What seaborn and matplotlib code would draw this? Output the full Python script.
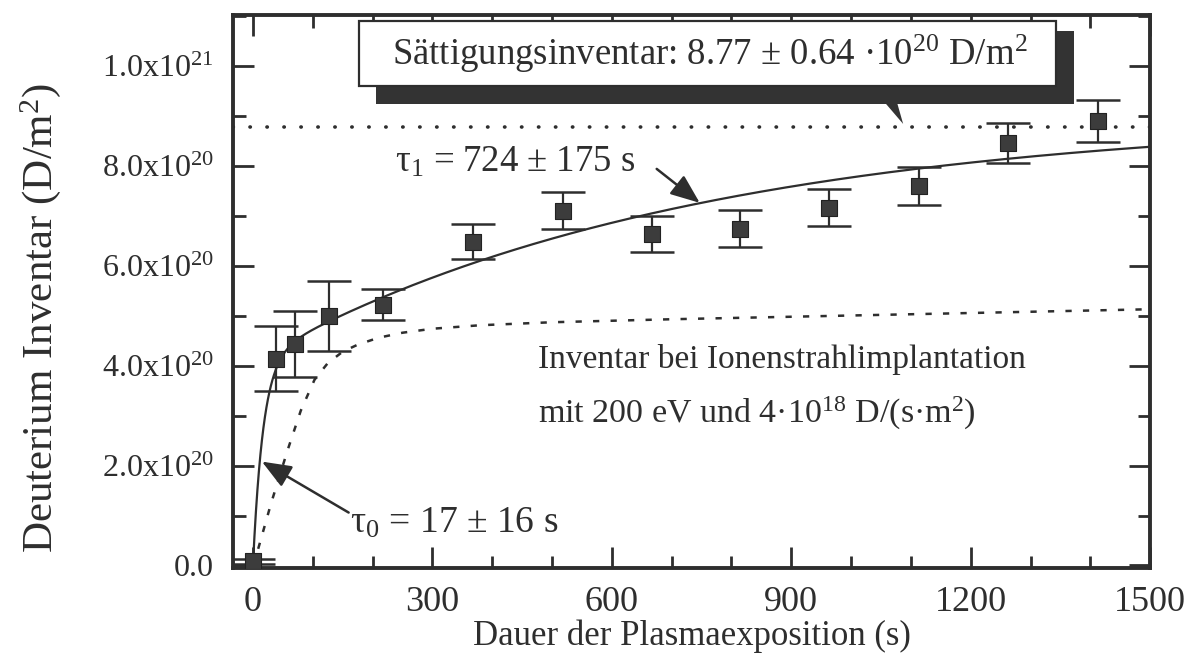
import numpy as np
import pandas as pd
import matplotlib
matplotlib.use("Agg")
import matplotlib.pyplot as plt
import seaborn as sns
from matplotlib.patches import Rectangle, Polygon
from matplotlib.ticker import MultipleLocator, FixedLocator, FixedFormatter

# Measured deuterium inventory (units of 1e20 D/m^2) vs. plasma exposure time (s)
t_meas = [0, 38, 70, 128, 218, 368, 518, 667, 815, 963, 1113, 1262, 1413]
inv_meas = [0.08, 4.14, 4.44, 5.00, 5.22, 6.48, 7.10, 6.64, 6.74, 7.16, 7.60, 8.46, 8.90]
inv_err = [0.06, 0.65, 0.66, 0.70, 0.31, 0.35, 0.37, 0.36, 0.37, 0.37, 0.38, 0.40, 0.42]

# Two-exponential fit parameters
tau0 = 17.0     # s
tau1 = 724.0    # s
amp_fast = 4.1  # 1e20 D/m^2
amp_slow = 4.9  # 1e20 D/m^2
saturation = 8.77  # 1e20 D/m^2

# Inventory for ion beam implantation (200 eV, 4e18 D/(s m^2))
t_ion = [0, 8, 30, 58, 80, 103, 125, 150, 175, 210, 250, 300, 380, 500, 700, 900, 1100, 1300, 1500]
inv_ion = [0.0, 0.30, 1.23, 2.31, 3.10, 3.72, 4.05, 4.28, 4.42, 4.56, 4.66, 4.74, 4.81, 4.87, 4.93, 4.98, 5.03, 5.08, 5.13]

# Axis ticks
x_ticks = [0, 300, 600, 900, 1200, 1500]
y_ticks = [0, 2, 4, 6, 8, 10]
y_ticklabels = ["0.0", "2.0x10$\\mathregular{^{20}}$", "4.0x10$\\mathregular{^{20}}$",
                "6.0x10$\\mathregular{^{20}}$", "8.0x10$\\mathregular{^{20}}$",
                "1.0x10$\\mathregular{^{21}}$"]

sns.set_theme(style="ticks")
plt.rcParams["font.family"] = ["Liberation Serif", "DejaVu Serif"]
plt.rcParams["mathtext.fontset"] = "custom"
plt.rcParams["mathtext.rm"] = "Liberation Serif"
plt.rcParams["mathtext.it"] = "Liberation Serif:italic"

INK = "#2e2e2e"

fig = plt.figure(figsize=(12.02, 6.63), dpi=100)
ax = fig.add_axes([0.194, 0.1433, 0.7629, 0.834])

# fit curve
t_fit = np.linspace(0, 1500, 1200)
inv_fit = amp_fast * (1 - np.exp(-t_fit / tau0)) + amp_slow * (1 - np.exp(-t_fit / tau1))
fit_df = pd.DataFrame({"t": t_fit, "inv": inv_fit})
sns.lineplot(data=fit_df, x="t", y="inv", ax=ax, color=INK, lw=1.6, zorder=3)

# ion beam curve
ion_df = pd.DataFrame({"t": t_ion, "inv": inv_ion})
sns.lineplot(data=ion_df, x="t", y="inv", ax=ax, color=INK, lw=1.8,
             linestyle=(0, (2.5, 4.5)), zorder=3)

# saturation level
ax.axhline(saturation, color=INK, lw=2.6, linestyle=(0, (0.1, 4.6)),
           dash_capstyle="round", zorder=2)

# measured points with error bars
ax.errorbar(t_meas, inv_meas, yerr=inv_err, fmt="none", ecolor=INK,
            elinewidth=1.6, capsize=16, capthick=1.8, zorder=4)
meas_df = pd.DataFrame({"t": t_meas, "inv": inv_meas})
sns.scatterplot(data=meas_df, x="t", y="inv", ax=ax, marker="s", s=120,
                color="#3c3c3c", edgecolor="#222222", linewidth=0.8, zorder=5)

ax.set_xlim(-33, 1500)
ax.set_ylim(-0.05, 11.02)

ax.xaxis.set_major_locator(FixedLocator(x_ticks))
ax.xaxis.set_minor_locator(MultipleLocator(100))
ax.yaxis.set_major_locator(FixedLocator(y_ticks))
ax.yaxis.set_major_formatter(FixedFormatter(y_ticklabels))
ax.yaxis.set_minor_locator(MultipleLocator(1))

ax.tick_params(which="both", direction="in", top=True, right=True,
               color=INK, width=2.0, labelcolor=INK)
ax.tick_params(which="major", length=15)
ax.tick_params(which="minor", length=9)
ax.tick_params(axis="x", pad=13, labelsize=26)
ax.tick_params(axis="y", pad=14, labelsize=23)

for sp in ax.spines.values():
    sp.set_linewidth(2.8)
    sp.set_color(INK)

ax.set_xlabel("Dauer der Plasmaexposition (s)", fontsize=25, color=INK, labelpad=0)
ax.set_ylabel("Deuterium Inventar (D/m$\\mathregular{^2}$)", fontsize=31, color=INK)
ax.yaxis.set_label_coords(-0.186, 0.452)

# saturation box with drop shadow and pointer
ax.add_patch(Rectangle((205, 9.24), 1167, 1.46, facecolor="#333333",
                       edgecolor="none", zorder=6))
ax.add_patch(Rectangle((177, 9.6), 1165, 1.3, facecolor="white",
                       edgecolor=INK, lw=1.6, zorder=7))
ax.add_patch(Polygon([(1057, 9.26), (1077, 9.26), (1087, 8.84)], closed=True,
                     facecolor="#333333", edgecolor="none", zorder=6))
ax.text(763, 10.25, "Sättigungsinventar: 8.77 ± 0.64 ·10$\\mathregular{^{20}}$ D/m$\\mathregular{^2}$",
        fontsize=26.5, color=INK, ha="center", va="center", zorder=8)

# time constants
arrow_kw = dict(arrowstyle="-|>,head_length=1.0,head_width=0.4", lw=1.8,
                color=INK, mutation_scale=18, shrinkA=0, shrinkB=0)
ax.text(238, 7.88, "τ$\\mathregular{_1}$ = 724 ± 175 s", fontsize=26.5, color=INK,
        ha="left", va="baseline")
ax.annotate("", xy=(747, 7.26), xytext=(675, 7.94), arrowprops=arrow_kw, zorder=6)

ax.text(163, 0.66, "τ$\\mathregular{_0}$ = 17 ± 16 s", fontsize=27, color=INK,
        ha="left", va="baseline")
ax.annotate("", xy=(15, 2.08), xytext=(160, 1.06), arrowprops=arrow_kw, zorder=6)

ax.text(477, 3.96, "Inventar bei Ionenstrahlimplantation", fontsize=24, color=INK,
        ha="left", va="baseline")
ax.text(477, 2.86, "mit 200 eV und 4·10$\\mathregular{^{18}}$ D/(s·m$\\mathregular{^2}$)",
        fontsize=24.5, color=INK, ha="left", va="baseline")

fig.savefig("out.png", dpi=100)
